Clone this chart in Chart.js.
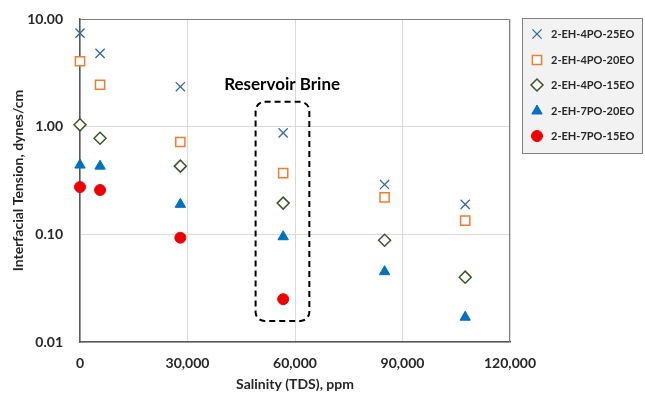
<!DOCTYPE html>
<html>
<head>
<meta charset="utf-8">
<script src="https://cdn.jsdelivr.net/npm/chart.js@4.4.1/dist/chart.umd.min.js"></script>
<style>
  html, body { margin: 0; padding: 0; background: #fff; }
  #chart { display: block; }
</style>
</head>
<body>
<canvas id="chart" width="645" height="396"></canvas>
<script>
// межфазное натяжение против солёности

const salinity = [0, 5600, 28000, 56700, 85000, 107500];

const seriesNames = ["2-EH-4PO-25EO", "2-EH-4PO-20EO", "2-EH-4PO-15EO", "2-EH-7PO-20EO", "2-EH-7PO-15EO"];
const ift25EO4PO = [7.4, 4.8, 2.35, 0.875, 0.29, 0.19];
const ift20EO4PO = [4.05, 2.45, 0.72, 0.37, 0.22, 0.134];
const ift15EO4PO = [1.04, 0.78, 0.43, 0.195, 0.088, 0.040];
const ift20EO7PO = [0.44, 0.43, 0.19, 0.095, 0.045, 0.017];
const ift15EO7PO = [0.275, 0.258, 0.093, 0.025];

const yTicks = [0.01, 0.1, 1, 10];
const xTicks = [0, 30000, 60000, 90000, 120000];

// рамка "Reservoir Brine" в координатах данных
const brineBox = { x0: 49000, x1: 64000, yTop: 1.7, yBottom: 0.0157 };
const brineLabel = { x: 56400, y: 2.45, text: "Reservoir Brine" };

const FONT = "Lato, 'Open Sans', sans-serif";
const TEXT = "#262626";

function pts(values) {
  return values.map((v, i) => ({ x: salinity[i], y: v }));
}

const styles = [
  { pointStyle: "crossRot", radius: 6.5, color: "#3565B0", fill: "#3565B0", bw: 1.3 },
  { pointStyle: "rect", radius: 6.5, color: "#ED7D31", fill: "#ffffff", bw: 1.5 },
  { pointStyle: "rectRot", radius: 6, color: "#385723", fill: "#ffffff", bw: 1.5 },
  { pointStyle: "triangle", radius: 6, color: "#0070C0", fill: "#0070C0", bw: 1 },
  { pointStyle: "circle", radius: 5.5, color: "#EE0000", fill: "#EE0000", bw: 1 }
];
const seriesData = [ift25EO4PO, ift20EO4PO, ift15EO4PO, ift20EO7PO, ift15EO7PO];

const frameAndNotes = {
  id: "frameAndNotes",
  beforeDatasetsDraw(chart) {
    const { ctx, chartArea: a } = chart;
    ctx.save();
    ctx.strokeStyle = "#7F7F7F";
    ctx.lineWidth = 1;
    ctx.beginPath();
    ctx.moveTo(a.left, a.top + 0.5);
    ctx.lineTo(a.right - 0.5, a.top + 0.5);
    ctx.lineTo(a.right - 0.5, a.bottom);
    ctx.stroke();
    ctx.restore();
  },
  afterDraw(chart) {
    const { ctx, scales: { x, y } } = chart;
    ctx.save();
    // пунктирная рамка
    const left = x.getPixelForValue(brineBox.x0);
    const right = x.getPixelForValue(brineBox.x1);
    const top = y.getPixelForValue(brineBox.yTop);
    const bottom = y.getPixelForValue(brineBox.yBottom);
    ctx.strokeStyle = "#000";
    ctx.lineWidth = 2;
    ctx.setLineDash([6, 4]);
    ctx.beginPath();
    ctx.roundRect(left, top, right - left, bottom - top, 9);
    ctx.stroke();
    ctx.setLineDash([]);
    ctx.fillStyle = "#000";
    ctx.font = "bold 17px " + FONT;
    ctx.textAlign = "center";
    ctx.textBaseline = "middle";
    ctx.fillText(brineLabel.text, x.getPixelForValue(brineLabel.x), y.getPixelForValue(brineLabel.y));

    // легенда
    const lx = 522.5, ly = 18.5, lw = 120, lh = 135;
    ctx.fillStyle = "#F2F2F2";
    ctx.fillRect(lx, ly, lw, lh);
    ctx.strokeStyle = "#7F7F7F";
    ctx.lineWidth = 1;
    ctx.strokeRect(lx, ly, lw, lh);
    const rowY = [34, 60, 85, 111, 136];
    chart.data.datasets.forEach((ds, i) => {
      const s = styles[i];
      ctx.fillStyle = s.fill;
      ctx.strokeStyle = s.color;
      ctx.lineWidth = s.bw;
      Chart.helpers.drawPoint(ctx, { pointStyle: s.pointStyle, radius: s.radius, borderWidth: s.bw, rotation: 0 }, 537, rowY[i]);
      ctx.fillStyle = TEXT;
      ctx.font = "bold 11px " + FONT;
      ctx.textAlign = "left";
      ctx.textBaseline = "middle";
      ctx.fillText(ds.label, 551, rowY[i] + 0.5);
    });
    ctx.restore();
  }
};

new Chart(document.getElementById("chart").getContext("2d"), {
  type: "scatter",
  data: {
    datasets: seriesData.map((vals, i) => ({
      label: seriesNames[i],
      data: pts(vals),
      pointStyle: styles[i].pointStyle,
      pointRadius: styles[i].radius,
      pointHoverRadius: styles[i].radius,
      borderColor: styles[i].color,
      backgroundColor: styles[i].fill,
      pointBorderWidth: styles[i].bw,
      borderWidth: styles[i].bw,
      clip: false
    }))
  },
  options: {
    responsive: false,
    animation: false,
    devicePixelRatio: 1,
    layout: { padding: { left: 0, top: 19, right: 135, bottom: 0 } },
    plugins: { legend: { display: false }, tooltip: { enabled: false } },
    scales: {
      x: {
        type: "linear",
        min: 0,
        max: 120000,
        afterBuildTicks: (axis) => { axis.ticks = xTicks.map(v => ({ value: v })); },
        afterFit: (axis) => { axis.height = 54; },
        grid: { color: "#D9D9D9", drawTicks: false },
        border: { color: "#595959", width: 1.5 },
        ticks: {
          padding: 13,
          color: TEXT,
          font: { family: FONT, size: 14, weight: "bold" },
          callback: (v) => v.toLocaleString("en-US")
        },
        title: {
          display: true,
          text: "Salinity (TDS), ppm",
          color: TEXT,
          font: { family: FONT, size: 14, weight: "bold" },
          padding: { top: 0, bottom: 3 }
        }
      },
      y: {
        type: "logarithmic",
        min: 0.01,
        max: 10,
        afterBuildTicks: (axis) => { axis.ticks = yTicks.map(v => ({ value: v })); },
        afterFit: (axis) => {
          axis.width = 80;
          axis.paddingTop = 0;
          axis.paddingBottom = 0;
        },
        grid: { color: "#D9D9D9", drawTicks: false },
        border: { color: "#595959", width: 1.5 },
        ticks: {
          padding: 17,
          color: TEXT,
          font: { family: FONT, size: 14, weight: "bold" },
          callback: (v) => Number(v).toFixed(2)
        },
        title: {
          display: true,
          text: "Interfacial Tension, dynes/cm",
          color: TEXT,
          font: { family: FONT, size: 14, weight: "bold" },
          padding: { top: 10, bottom: 0 }
        }
      }
    }
  },
  plugins: [frameAndNotes]
});
</script>
</body>
</html>
